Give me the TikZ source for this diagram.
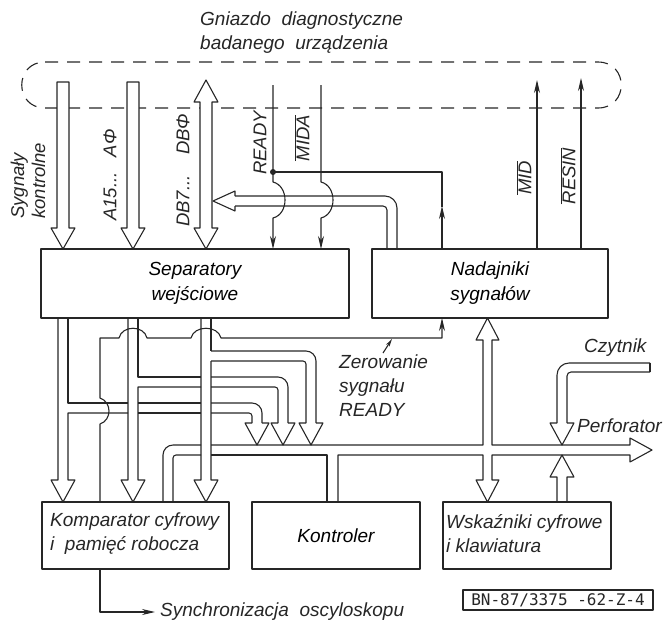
\documentclass[tikz,border=0pt]{standalone}
\usepackage{fontspec}
\setmainfont{Liberation Sans}
\newfontfamily\codefont{DejaVu Sans Mono}
\usetikzlibrary{arrows.meta}
\begin{document}
\begin{tikzpicture}[x=1pt,y=-1pt,
  ln/.style={line width=1.1pt, draw=black!85, line join=round},
  box/.style={ln, draw, rectangle, inner sep=0pt, font=\fontsize{19}{25}\selectfont\itshape},
  txt/.style={inner sep=0pt, text=black!85, font=\fontsize{19}{24}\selectfont\itshape},
  rtxt/.style={inner sep=0pt, rotate=90, text=black!85, font=\fontsize{18.5}{21}\selectfont\itshape},
  sig/.style={ln, -{Stealth[length=13pt,width=6pt]}},
  dsh/.style={ln, dash pattern=on 13pt off 9pt},
  bus/.style={ln, fill=white}]
\useasboundingbox (0,0) rectangle (666,625);

% socket outline
\draw[dsh] (45,62) -- (598,62) .. controls (629,62) and (629,108) .. (598,108) -- (45,108) .. controls (14,108) and (14,62) .. (45,62);
\node[txt, anchor=west, align=left] (title) at (200,33) {Gniazdo\ \ diagnostyczne\\badanego\ \ urządzenia};

% boxes
\node[box, minimum width=308pt, minimum height=69pt, align=center] (sep) at (195,283.5) {Separatory\\wejściowe};
\node[box, minimum width=236pt, minimum height=69pt, align=center] (nad) at (490,283.5) {Nadajniki\\sygnałów};
\node[box, minimum width=187pt, minimum height=67pt] (komp) at (135.5,535.5) {};
\node[txt, anchor=west, align=left] (kompt) at (50,534) {Komparator cyfrowy\\i\ \ pamięć robocza};
\node[box, minimum width=168pt, minimum height=67pt] (kon) at (336,535.5) {Kontroler};
\node[box, minimum width=168pt, minimum height=67pt] (wsk) at (527,535.5) {};
\node[txt, anchor=west, align=left] (wskt) at (446,534) {Wskaźniki cyfrowe\\i klawiatura};
\node[ln, draw, inner sep=0pt, minimum width=190pt, minimum height=20pt, text=black!85, font=\codefont\fontsize{16}{16}\selectfont] (bn) at (558,600) {BN-87/3375 -62-Z-4};

% labels
\node[rtxt, anchor=west, align=left] (lsk) at (28,219) {Sygnały\\kontrolne};
\node[rtxt, anchor=west] (la) at (110,221) {A15...\ \ \ AΦ};
\node[rtxt, anchor=west] (ld) at (183,227) {DB7...\ \ \ \ DBΦ};
\node[rtxt] (lr) at (260,143) {READY};
\node[rtxt] (lm) at (302,138) {$\overline{\mbox{MIDA}}$};
\node[rtxt] (lmid) at (524,178) {$\overline{\mbox{MID}}$};
\node[rtxt] (lres) at (568,176) {$\overline{\mbox{RESIN}}$};
\node[txt, anchor=north west, align=left] (zer) at (339,355) {Zerowanie\\sygnału\\READY};
\node[txt, anchor=west] (czy) at (584,348) {Czytnik};
\node[txt, anchor=west] (perf) at (577,426) {Perforator};
\node[txt, anchor=west] (syn) at (160,612) {Synchronizacja\ \ oscyloskopu};

% upper buses
\draw[bus] (57,82) -- (69,82) -- (69,228) -- (75,228) -- (63,249) -- (51,228) -- (57,228) -- cycle;
\draw[bus] (127,82) -- (139,82) -- (139,228) -- (145,228) -- (133,249) -- (121,228) -- (127,228) -- cycle;
\draw[bus] (206,80) -- (218,102) -- (212,102) -- (212,228) -- (218,228) -- (206,249) -- (194,228) -- (200,228) -- (200,102) -- (194,102) -- cycle;

% Nadajniki -> DB bus
\draw[ln, rounded corners=12pt] (397,249) |- (235,196);
\draw[ln, rounded corners=4pt] (387,249) |- (235,206);
\draw[ln] (235,196) -- (235,191) -- (213,201) -- (235,211) -- (235,206);

% READY, MIDA
\draw[sig] (273,85) -- (273,182) .. controls (289,186) and (289,214) .. (273,218) -- (273,249);
\draw[sig] (321,85) -- (321,182) .. controls (337,186) and (337,214) .. (321,218) -- (321,249);
\fill[black!85] (273,172) circle (3pt);
\draw[sig] (442,249) -- (442,206);
\draw[ln] (442,207) -- (442,172) -- (273,172);

% MID, RESIN
\draw[sig] (537,249) -- (537,80);
\draw[sig] (581,249) -- (581,78);

% Zerowanie READY
\draw[sig] (100,502) -- (100,424) .. controls (112,420) and (112,402) .. (100,398) -- (100,338) -- (119,338) .. controls (122,325) and (144,325) .. (147,338) -- (191,338) .. controls (194,325) and (218,325) .. (221,338) -- (442,338) -- (442,318);
\draw[sig, -{Stealth[length=8pt,width=4pt]}] (383,353) -- (392,339);

% lower Sygnaly bus
\draw[ln] (58,318) -- (58,480) -- (51,480) -- (63,502) -- (75,480) -- (68,480) -- (68,413) -- (128,413);
\draw[ln] (68,318) -- (68,403) -- (128,403);
\draw[ln] (138,403) -- (201,403) (138,413) -- (201,413);
\draw[ln, rounded corners=10pt] (211,403) -| (262,423);
\draw[ln, rounded corners=3pt] (211,413) -| (252,423);
\draw[ln] (252,423) -- (245,423) -- (257,445) -- (269,423) -- (262,423);

% lower A15 bus
\draw[ln] (128,318) -- (128,480) -- (121,480) -- (133,502) -- (145,480) -- (138,480) -- (138,387) -- (201,387);
\draw[ln] (138,318) -- (138,377) -- (201,377);
\draw[ln, rounded corners=10pt] (211,377) -| (288,423);
\draw[ln, rounded corners=3pt] (211,387) -| (278,423);
\draw[ln] (278,423) -- (271,423) -- (283,445) -- (295,423) -- (288,423);

% lower DB bus
\draw[ln] (201,318) -- (201,480) -- (194,480) -- (206,502) -- (218,480) -- (211,480) -- (211,361);
\draw[ln] (211,318) -- (211,351);
\draw[ln, rounded corners=10pt] (211,351) -| (316,423);
\draw[ln, rounded corners=3pt] (211,361) -| (306,423);
\draw[ln] (306,423) -- (299,423) -- (311,445) -- (323,423) -- (316,423);

% horizontal bus
\draw[ln, rounded corners=10pt] (163,502) |- (201,445);
\draw[ln] (211,445) -- (483,445) -- (483,340) -- (476,340) -- (487.5,318) -- (499,340) -- (492,340) -- (492,445) -- (630,445) -- (630,438) -- (652,450) -- (630,462) -- (630,455) -- (492,455) -- (492,480) -- (499,480) -- (487.5,502) -- (476,480) -- (483,480) -- (483,455) -- (338,455) -- (338,502);
\draw[ln] (327,502) -- (327,455) -- (211,455);
\draw[ln, rounded corners=3pt] (201,455) -| (173,502);

% Czytnik
\draw[ln] (650,363) -- (650,372);
\draw[ln, rounded corners=12pt] (650,363) -| (557,423);
\draw[ln, rounded corners=4pt] (650,372) -| (567,423);
\draw[ln] (557,423) -- (550,423) -- (562,445) -- (574,423) -- (567,423);

% Wskazniki -> bus
\draw[ln] (557,502) -- (557,477) -- (550,477) -- (562,455) -- (574,477) -- (567,477) -- (567,502);

% Synchronizacja
\draw[sig] (100,569) |- (155,612);
\end{tikzpicture}
\end{document}
